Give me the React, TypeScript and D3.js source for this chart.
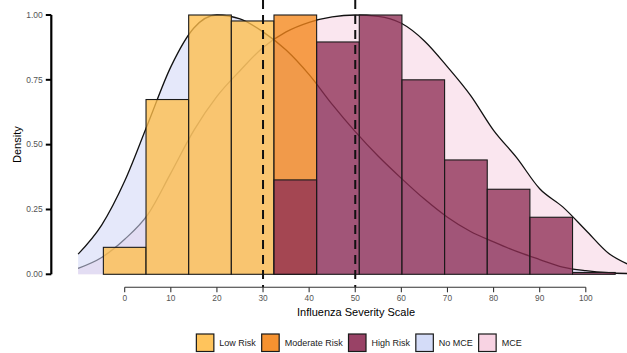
import React, { useEffect, useRef } from "react";
import * as d3 from "d3";

const width = 627;
const height = 353;

// histogram bins (centre values, width 9.25)
const binCenters = [0, 9.25, 18.5, 27.75, 37, 46.25, 55.5, 64.75, 74, 83.25, 92.5, 101.75];
const binWidth = 9.25;
const lowRisk = [0.104, 0.674, 1.0, 0.977, 0, 0, 0, 0, 0, 0, 0, 0];
const moderateRisk = [0, 0, 0, 0, 1.0, 0, 0, 0, 0, 0, 0, 0];
const highRisk = [0, 0, 0, 0, 0.364, 0.896, 1.0, 0.75, 0.441, 0.328, 0.22, 0.007];

// scaled density curves
const densityX = [-10.1, -5, 0, 5, 10, 15, 20, 25, 30, 35, 40, 45, 50, 55, 60, 65, 70, 75, 80, 85, 90, 95, 100, 105, 109];
const noMce = [0.078, 0.19, 0.36, 0.58, 0.8, 0.95, 1.0, 0.985, 0.935, 0.865, 0.77, 0.655, 0.55, 0.455, 0.37, 0.29, 0.22, 0.165, 0.125, 0.088, 0.057, 0.028, 0.014, 0.006, 0.003];
const mce = [0.023, 0.065, 0.135, 0.23, 0.39, 0.555, 0.686, 0.785, 0.875, 0.935, 0.972, 0.993, 1.0, 0.995, 0.968, 0.9, 0.8, 0.69, 0.555, 0.45, 0.33, 0.26, 0.17, 0.08, 0.04];

const cutoffs = [30, 50];
const xTicks = [0, 10, 20, 30, 40, 50, 60, 70, 80, 90, 100];
const yTicks = [0, 0.25, 0.5, 0.75, 1];

const legendItems = [
  { label: "Low Risk", color: "#FFBE4A", op: 0.9 },
  { label: "Moderate Risk", color: "#F5861A", op: 0.9 },
  { label: "High Risk", color: "#8E2E55", op: 0.9 },
  { label: "No MCE", color: "#C9D3F6", op: 0.8 },
  { label: "MCE", color: "#F6C8DC", op: 0.8 },
];

const font = "'Liberation Sans', Arial, sans-serif";

export default function App() {
  const ref = useRef<SVGSVGElement>(null);

  useEffect(() => {
    const svg = d3.select(ref.current);
    svg.selectAll("*").remove();

    const x = d3.scaleLinear().domain([0, 100]).range([124.7, 585.8]);
    const y = d3.scaleLinear().domain([0, 1]).range([274.3, 15]);

    const g = svg.append("g");

    // density areas: MCE first, No MCE over it
    const area = d3
      .area<number>()
      .x((d, i) => x(densityX[i]))
      .y0(y(0))
      .y1((d) => y(d))
      .curve(d3.curveMonotoneX);
    const line = d3
      .line<number>()
      .x((d, i) => x(densityX[i]))
      .y((d) => y(d))
      .curve(d3.curveMonotoneX);

    [
      { vals: mce, color: "#F6D2E2" },
      { vals: noMce, color: "#D0D5F6" },
    ].forEach((s) => {
      g.append("path")
        .attr("d", area(s.vals))
        .attr("fill", s.color)
        .attr("fill-opacity", 0.55);
      g.append("path")
        .attr("d", line(s.vals))
        .attr("fill", "none")
        .attr("stroke", "#111")
        .attr("stroke-width", 1.3);
    });

    // histogram bars
    [
      { vals: lowRisk, color: "#FFBE4A" },
      { vals: moderateRisk, color: "#F5861A" },
      { vals: highRisk, color: "#8E2E55" },
    ].forEach((s) => {
      g.append("g")
        .selectAll("rect")
        .data(binCenters.map((c, i) => ({ c, v: s.vals[i] })).filter((d) => d.v > 0))
        .enter()
        .append("rect")
        .attr("x", (d) => x(d.c - binWidth / 2))
        .attr("y", (d) => y(d.v))
        .attr("width", (d) => x(d.c + binWidth / 2) - x(d.c - binWidth / 2))
        .attr("height", (d) => y(0) - y(d.v))
        .attr("fill", s.color)
        .attr("fill-opacity", 0.78)
        .attr("stroke", "#1a1a1a")
        .attr("stroke-width", 1.1);
    });

    // cutoff lines
    g.selectAll(".vline")
      .data(cutoffs)
      .enter()
      .append("line")
      .attr("x1", (d) => x(d))
      .attr("x2", (d) => x(d))
      .attr("y1", 0)
      .attr("y2", 287.3)
      .attr("stroke", "#111")
      .attr("stroke-width", 2)
      .attr("stroke-dasharray", "9,6");

    // y axis (capped)
    const ya = svg.append("g").attr("transform", "translate(51.3,0)");
    ya.append("line")
      .attr("y1", y(1))
      .attr("y2", y(0))
      .attr("stroke", "#000")
      .attr("stroke-width", 2.2);
    const yt = ya.selectAll(".yt").data(yTicks).enter().append("g").attr("transform", (d) => `translate(0,${y(d)})`);
    yt.append("line").attr("x1", -5.5).attr("x2", 0).attr("stroke", "#000").attr("stroke-width", 2);
    yt.append("text")
      .attr("x", -8.5)
      .attr("dy", "0.33em")
      .attr("text-anchor", "end")
      .attr("font-family", font)
      .attr("font-size", 8.5)
      .attr("fill", "#555")
      .text((d) => d3.format(".2f")(d));

    // x axis (capped)
    const xa = svg.append("g").attr("transform", "translate(0,287.3)");
    xa.append("line")
      .attr("x1", x(0))
      .attr("x2", x(100))
      .attr("stroke", "#333")
      .attr("stroke-width", 1.1);
    const xt = xa.selectAll(".xt").data(xTicks).enter().append("g").attr("transform", (d) => `translate(${x(d)},0)`);
    xt.append("line").attr("y1", 0).attr("y2", 5).attr("stroke", "#333").attr("stroke-width", 1.1);
    xt.append("text")
      .attr("y", 14)
      .attr("text-anchor", "middle")
      .attr("font-family", font)
      .attr("font-size", 8.3)
      .attr("fill", "#555")
      .text((d) => d);

    // titles
    svg.append("text")
      .attr("x", 356)
      .attr("y", 315.5)
      .attr("text-anchor", "middle")
      .attr("font-family", font)
      .attr("font-size", 11)
      .attr("fill", "#000")
      .text("Influenza Severity Scale");
    svg.append("text")
      .attr("transform", `translate(21,${(y(0) + y(1)) / 2}) rotate(-90)`)
      .attr("text-anchor", "middle")
      .attr("font-family", font)
      .attr("font-size", 11)
      .attr("fill", "#000")
      .text("Density");

    // legend
    const lg = svg.append("g");
    const keySize = 17.5;
    const items = lg.selectAll(".li").data(legendItems).enter().append("g");
    items.append("rect")
      .attr("width", keySize)
      .attr("height", keySize)
      .attr("y", 334)
      .attr("fill", (d) => d.color)
      .attr("fill-opacity", (d) => d.op)
      .attr("stroke", "#1a1a1a")
      .attr("stroke-width", 1.2);
    items.append("text")
      .attr("x", keySize + 5.5)
      .attr("y", 342.8)
      .attr("dy", "0.35em")
      .attr("font-family", font)
      .attr("font-size", 9)
      .attr("fill", "#222")
      .text((d) => d.label);
    const widths: number[] = [];
    items.each(function () {
      const t = d3.select(this).select("text").node() as SVGTextElement;
      widths.push(keySize + 5.5 + t.getComputedTextLength());
    });
    const total = d3.sum(widths) + 5.8 * (widths.length - 1);
    let cx = 359 - total / 2;
    items.attr("transform", (d, i) => {
      const tx = cx;
      cx += widths[i] + 5.8;
      return `translate(${tx},0)`;
    });
  }, []);

  return (
    <svg
      ref={ref}
      width={width}
      height={height}
      style={{ position: "absolute", left: 0, top: 0, background: "#fff" }}
    />
  );
}
